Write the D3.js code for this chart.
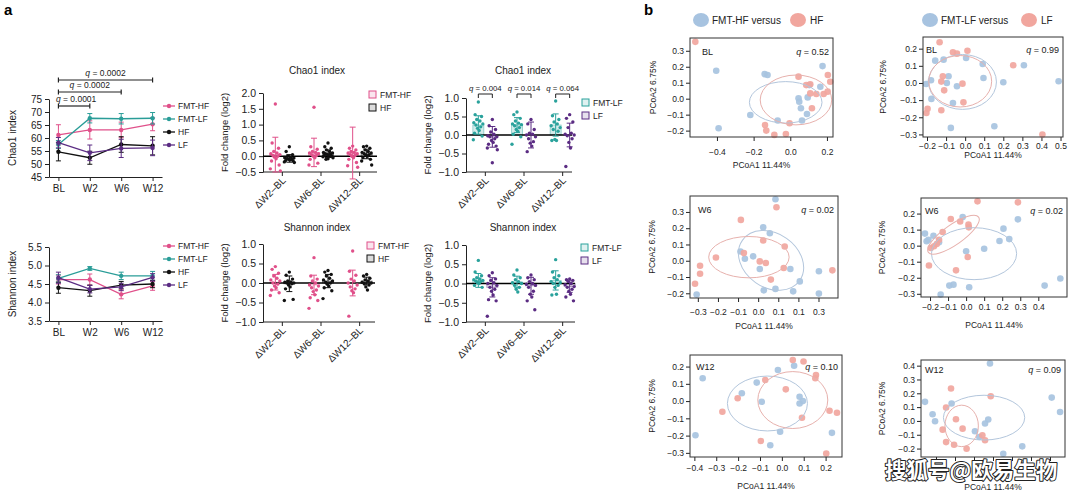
<!DOCTYPE html>
<html><head><meta charset="utf-8">
<script src="https://cdn.jsdelivr.net/npm/d3@7"></script>
<style>
body{margin:0;background:#fff;}
svg{font-family:"Liberation Sans", Arial, sans-serif;}
</style></head><body>
<svg id="c" width="1080" height="494"></svg>
<script>
// ================= DATA =================
const timepoints = ["BL","W2","W6","W12"];
const lineSeries = ["FMT-HF","FMT-LF","HF","LF"];
// Chao1 (mean, SEM)
const chao1_FMTHF = [61.2, 63.1, 63.1, 65.3];
const chao1_FMTHF_err = [3.9, 3.5, 3.0, 2.5];
const chao1_FMTLF = [57.5, 67.6, 67.4, 67.6];
const chao1_FMTLF_err = [1.5, 1.8, 2.0, 2.2];
const chao1_HF = [54.7, 52.4, 57.5, 57.0];
const chao1_HF_err = [3.5, 2.5, 3.0, 3.5];
const chao1_LF = [58.2, 54.3, 56.0, 56.2];
const chao1_LF_err = [2.0, 3.0, 3.5, 3.0];
const chao1Ticks = [45,50,55,60,65,70,75];
const chao1Q = ["0.0002","0.0002","0.0001"];
const chao1QTo = ["W12","W6","W2"];
// Shannon (mean, SEM)
const shan_FMTHF = [4.62, 4.62, 4.22, 4.45];
const shan_FMTHF_err = [0.12, 0.15, 0.12, 0.12];
const shan_FMTLF = [4.65, 4.92, 4.72, 4.72];
const shan_FMTLF_err = [0.1, 0.05, 0.1, 0.12];
const shan_HF = [4.4, 4.32, 4.47, 4.5];
const shan_HF_err = [0.15, 0.15, 0.1, 0.1];
const shan_LF = [4.67, 4.36, 4.42, 4.68];
const shan_LF_err = [0.15, 0.1, 0.1, 0.1];
const shanTicks = [3.5,4.0,4.5,5.0,5.5];

// Fold change dot plots
const dpGroups = ["\u0394W2\u2013BL","\u0394W6\u2013BL","\u0394W12\u2013BL"];
// Chao1: FMT-HF vs HF
const c1_FMTHF_pts = [
  [1.65,0.42,0.25,0.15,0.1,0.08,0.05,0.02,0.0,-0.03,-0.08,-0.15,-0.28,-0.4,-0.47],
  [1.55,0.3,0.22,0.15,0.12,0.1,0.08,0.05,0.02,0.0,-0.05,-0.1,-0.22,-0.28],
  [0.32,0.25,0.2,0.15,0.12,0.1,0.08,0.05,0.02,0.0,-0.05,-0.1,-0.2,-0.3,-0.35]];
const c1_FMTHF_mean = [0.05, 0.12, 0.1];
const c1_FMTHF_sd = [0.55, 0.45, 0.82];
const c1_HF_pts = [
  [0.3,0.15,0.05,0.0,-0.03,-0.05,-0.06,-0.08,-0.1,-0.1,-0.12,-0.14,-0.15,-0.18,-0.2],
  [0.42,0.3,0.25,0.2,0.15,0.12,0.1,0.08,0.06,0.05,0.04,0.02,0.0,-0.02,-0.05,-0.08,-0.1],
  [0.32,0.3,0.25,0.2,0.15,0.12,0.1,0.08,0.05,0.02,0.0,-0.05,-0.1,-0.15,-0.28]];
const c1_HF_mean = [-0.07, 0.08, 0.07];
const c1_HF_sd = [0.12, 0.12, 0.15];
// Chao1: FMT-LF vs LF
const c1_FMTLF_pts = [
  [0.89,0.55,0.5,0.42,0.38,0.33,0.3,0.27,0.22,0.18,0.12,0.05,-0.03,-0.13],
  [0.62,0.55,0.45,0.38,0.32,0.3,0.28,0.25,0.2,0.15,0.1,0.02,-0.05,-0.25],
  [0.92,0.52,0.42,0.35,0.3,0.25,0.2,0.15,0.1,-0.12,-0.15,-0.15]];
const c1_FMTLF_mean = [0.27, 0.27, 0.27];
const c1_FMTLF_sd = [0.25, 0.2, 0.3];
const c1_LF_pts = [
  [0.42,0.25,0.15,0.08,0.02,-0.02,-0.05,-0.05,-0.1,-0.15,-0.2,-0.25,-0.3,-0.35,-0.4,-0.75],
  [0.42,0.3,0.15,0.05,0.02,0.0,-0.05,-0.1,-0.18,-0.22,-0.3,-0.45],
  [0.55,0.45,0.35,0.2,0.05,0.02,0.0,-0.02,-0.1,-0.2,-0.35,-0.85]];
const c1_LF_mean = [-0.05, 0.0, 0.0];
const c1_LF_sd = [0.28, 0.35, 0.32];
const c1_LF_q = ["0.004","0.014","0.064"];
// Shannon: FMT-HF vs HF
const sh_FMTHF_pts = [
  [0.42,0.35,0.25,0.18,0.12,0.08,0.05,0.0,-0.03,-0.08,-0.12,-0.18,-0.25,-0.32],
  [0.65,0.18,0.1,0.05,0.0,-0.05,-0.08,-0.12,-0.18,-0.22,-0.3,-0.38,-0.45,-0.65],
  [0.82,0.3,0.2,0.1,0.05,0.0,-0.05,-0.1,-0.15,-0.2,-0.25,-0.85]];
const sh_FMTHF_mean = [0.02, -0.05, 0.0];
const sh_FMTHF_sd = [0.2, 0.25, 0.33];
const sh_HF_pts = [
  [0.28,0.2,0.1,0.05,0.03,0.02,0.0,0.0,-0.02,-0.05,-0.1,-0.15,-0.42,-0.45],
  [0.32,0.28,0.22,0.18,0.12,0.08,0.05,0.02,0.0,-0.03,-0.08,-0.12,-0.2,-0.4],
  [0.22,0.18,0.12,0.08,0.05,0.02,0.0,-0.02,-0.05,-0.1,-0.18]];
const sh_HF_mean = [-0.02, 0.05, 0.05];
const sh_HF_sd = [0.2, 0.17, 0.1];
// Shannon: FMT-LF vs LF
const sh_FMTLF_pts = [
  [0.6,0.3,0.2,0.15,0.12,0.1,0.08,0.06,0.05,0.02,0.0,-0.05,-0.1],
  [0.35,0.22,0.15,0.1,0.05,0.02,0.0,-0.05,-0.1,-0.15,-0.22],
  [0.62,0.3,0.2,0.15,0.1,0.05,0.02,0.0,-0.05,-0.1,-0.28,-0.3]];
const sh_FMTLF_mean = [0.08, 0.04, 0.08];
const sh_FMTLF_sd = [0.18, 0.15, 0.25];
const sh_LF_pts = [
  [0.28,0.2,0.12,0.08,0.02,0.0,-0.05,-0.1,-0.15,-0.2,-0.3,-0.42,-0.45,-0.85],
  [0.22,0.15,0.1,0.05,0.0,-0.02,-0.05,-0.1,-0.2,-0.28,-0.35,-0.45,-0.68],
  [0.12,0.1,0.08,0.05,0.0,-0.03,-0.08,-0.1,-0.15,-0.2,-0.28,-0.35,-0.45]];
const sh_LF_mean = [-0.1, -0.06, -0.08];
const sh_LF_sd = [0.25, 0.22, 0.15];
const fcTicksChao = [-0.5,0,0.5,1.0,1.5,2.0];
const fcTicks = [-1.0,-0.5,0,0.5,1.0];

// PCoA points [PCoA1, PCoA2]
const blHF_fmt = [[-0.404,0.175],[-0.391,-0.185],[-0.218,-0.102],[-0.14,0.154],[-0.124,0.148],[-0.069,-0.137],[0.045,0.002],[0.049,-0.019],[0.058,-0.06],[0.064,-0.137],[0.091,-0.096],[0.104,0.085],[0.095,0.008],[0.164,0.075],[0.176,0.204]];
const blHF_hf = [[-0.518,0.356],[-0.138,-0.165],[-0.131,-0.2],[-0.087,-0.227],[-0.024,-0.221],[-0.004,-0.154],[0.045,0.138],[0.087,0.085],[0.109,0.09],[0.109,0.033],[0.118,-0.06],[0.142,0.029],[0.182,0.029],[0.204,0.044],[0.205,0.148],[0.218,0.106]];
const blLF_fmt = [[-0.205,-0.006],[-0.179,0.016],[-0.177,-0.093],[-0.157,0.13],[-0.113,0.136],[-0.087,0.039],[-0.096,0.0],[-0.043,-0.019],[-0.064,-0.117],[0.005,0.146],[0.092,0.111],[0.096,0.029],[0.2,0.004],[-0.075,-0.262],[0.153,-0.252],[0.308,0.103],[0.49,0.01]];
const blLF_lf = [[-0.134,0.237],[-0.203,-0.175],[-0.197,-0.151],[-0.125,-0.159],[-0.117,0.039],[-0.125,0.008],[-0.11,-0.043],[-0.064,0.179],[-0.043,0.171],[0.012,0.188],[-0.014,-0.004],[-0.009,-0.113],[0.252,0.103],[0.405,-0.301]];
const w6HF_fmt = [[-0.306,-0.208],[-0.088,0.057],[-0.066,0.012],[-0.025,0.027],[0.008,-0.051],[0.025,0.206],[0.058,0.169],[0.086,0.378],[0.028,-0.182],[0.086,-0.173],[0.16,-0.051],[0.174,-0.188],[0.207,-0.127],[0.302,-0.202],[0.302,-0.065]];
const w6HF_hf = [[-0.314,-0.141],[-0.289,-0.08],[-0.289,-0.031],[-0.21,0.02],[-0.086,0.251],[-0.071,0.047],[0.008,-0.004],[0.025,0.124],[0.038,-0.014],[0.063,-0.116],[0.091,0.329],[0.127,-0.045],[0.132,0.088],[0.369,-0.059]];
const w6LF_fmt = [[-0.228,0.075],[-0.219,0.027],[-0.209,0.037],[-0.181,0.062],[-0.15,0.021],[-0.019,0.178],[0.0,-0.035],[0.1,-0.019],[0.207,0.106],[0.185,0.029],[0.239,0.041],[0.287,0.164],[-0.093,-0.249],[-0.07,-0.243],[-0.141,-0.305],[0.017,-0.259],[0.435,-0.249],[0.522,-0.205]];
const w6LF_lf = [[-0.206,-0.124],[-0.196,-0.015],[-0.178,-0.004],[-0.163,0.01],[-0.15,0.037],[-0.13,0.085],[-0.085,0.166],[-0.033,0.151],[0.013,0.131],[0.015,0.114],[0.009,-0.071],[-0.056,-0.154],[0.063,0.276],[0.287,0.27]];
const w12HF_fmt = [[-0.395,-0.198],[-0.362,0.132],[-0.183,0.045],[-0.115,0.107],[-0.092,-0.004],[-0.018,0.18],[-0.008,-0.178],[-0.053,-0.256],[0.056,0.205],[0.081,0.025],[0.081,-0.014],[0.096,0.0],[0.229,-0.184]];
const w12HF_hf = [[-0.272,-0.062],[-0.202,0.016],[-0.076,0.122],[-0.096,-0.231],[0.018,0.068],[0.05,0.238],[0.099,0.229],[0.092,-0.097],[0.153,0.132],[0.156,0.151],[0.218,-0.056],[0.252,-0.068],[0.203,-0.304]];
const w12LF_fmt = [[-0.258,0.138],[-0.218,0.048],[-0.205,-0.002],[-0.118,0.126],[0.075,0.01],[0.058,-0.019],[0.005,-0.075],[0.028,-0.116],[0.084,0.416],[0.254,-0.184],[0.409,0.169],[0.453,0.065],[0.154,-0.237]];
const w12LF_lf = [[-0.121,0.235],[-0.147,0.097],[-0.095,0.012],[-0.165,-0.063],[-0.147,-0.153],[-0.105,-0.172],[-0.06,-0.056],[-0.039,-0.201],[0.044,-0.104],[0.058,-0.14],[0.088,0.179]];
// ellipses [cx, cy, rx, ry, rotation]
const blHF_ell = [[-0.025,-0.023,0.198,0.13,0],[0.031,-0.008,0.195,0.156,0]];
const blLF_ell = [[-0.014,0.006,0.178,0.16,0],[-0.026,0.01,0.165,0.15,0]];
const w6HF_ell = [[0.064,0.002,0.174,0.166,35],[-0.046,0.022,0.2,0.127,0]];
const w6LF_ell = [[0.044,-0.05,0.236,0.162,0],[-0.07,0.068,0.17,0.062,-35]];
const w12HF_ell = [[-0.066,-0.014,0.183,0.159,0],[0.05,0.006,0.16,0.165,0]];
const w12LF_ell = [[0.053,0.024,0.214,0.162,0],[-0.065,-0.036,0.088,0.15,0]];
const pcoaQ = ["0.52","0.99","0.02","0.02","0.10","0.09"];
const pcoaTime = ["BL","BL","W6","W6","W12","W12"];
const w6TickLabels = ["\u22120.3","\u22120.2","\u22120.1","0.0","0.1","0.1","0.3"];

// ================= DRAW =================
const svg = d3.select("#c");
const lineColors = ["#e0508a","#2a9d98","#111111","#5b2c83"];
const BLUE = "#a7c3e0", PINK = "#f1a69e";

function styleAxis(sel, fs){
  sel.attr("font-family", null).attr("font-size", null);
  sel.selectAll("text").attr("font-size", fs).attr("fill","#222");
  sel.selectAll("line,path").attr("stroke","#222");
}
function qText(t, prefix, val){
  t.append("tspan").attr("font-style","italic").text("q");
  t.append("tspan").text(" = " + val);
}

svg.append("text").attr("x",4).attr("y",15).attr("font-size",15).attr("font-weight","bold").text("a");
svg.append("text").attr("x",644).attr("y",15).attr("font-size",15).attr("font-weight","bold").text("b");

function lineChart(cfg){
  const g = svg.append("g");
  const x = d3.scalePoint().domain(timepoints).range([49,162]).padding(0.3);
  const y = d3.scaleLinear().domain(cfg.yDomain).range(cfg.yRange);
  g.append("g").attr("transform","translate(49,0)")
   .call(d3.axisLeft(y).tickValues(cfg.yTicks).tickFormat(d3.format(cfg.fmt)).tickSize(4).tickPadding(3).tickSizeOuter(0))
   .call(s=>styleAxis(s,10));
  g.append("g").attr("transform",`translate(0,${cfg.yRange[0]})`)
   .call(d3.axisBottom(x).tickSize(4).tickPadding(4).tickSizeOuter(0))
   .call(s=>styleAxis(s,10));
  g.append("text").attr("transform",`translate(16,${(cfg.yRange[0]+cfg.yRange[1])/2}) rotate(-90)`)
   .attr("text-anchor","middle").attr("font-size",10).attr("fill","#222").text(cfg.label);
  cfg.series.forEach((s,k)=>{
    const c = lineColors[k];
    g.append("path").datum(s.mean)
      .attr("d", d3.line().x((d,i)=>x(timepoints[i])).y(d=>y(d)))
      .attr("fill","none").attr("stroke",c).attr("stroke-width",1.3);
    s.mean.forEach((m,i)=>{
      const cx = x(timepoints[i]);
      g.append("line").attr("x1",cx).attr("x2",cx).attr("y1",y(m-s.err[i])).attr("y2",y(m+s.err[i])).attr("stroke",c).attr("stroke-width",1);
      [m-s.err[i], m+s.err[i]].forEach(v=> g.append("line").attr("x1",cx-2.5).attr("x2",cx+2.5).attr("y1",y(v)).attr("y2",y(v)).attr("stroke",c));
      g.append("circle").attr("cx",cx).attr("cy",y(m)).attr("r",2.2).attr("fill",c);
    });
    const ly = cfg.legendY + k*13;
    g.append("line").attr("x1",163).attr("x2",175).attr("y1",ly).attr("y2",ly).attr("stroke",c).attr("stroke-width",1.3);
    g.append("circle").attr("cx",169).attr("cy",ly).attr("r",2.2).attr("fill",c);
    g.append("text").attr("x",178).attr("y",ly+3).attr("font-size",8.5).attr("fill","#222").text(lineSeries[k]);
  });
  return {x,y,g};
}

const lc1 = lineChart({yDomain:[45,75], yRange:[177,99], yTicks:chao1Ticks, fmt:"d", label:"Chao1 index", legendY:106,
  series:[{mean:chao1_FMTHF,err:chao1_FMTHF_err},{mean:chao1_FMTLF,err:chao1_FMTLF_err},{mean:chao1_HF,err:chao1_HF_err},{mean:chao1_LF,err:chao1_LF_err}]});
lineChart({yDomain:[3.5,5.5], yRange:[321,247], yTicks:shanTicks, fmt:".1f", label:"Shannon index", legendY:246,
  series:[{mean:shan_FMTHF,err:shan_FMTHF_err},{mean:shan_FMTLF,err:shan_FMTLF_err},{mean:shan_HF,err:shan_HF_err},{mean:shan_LF,err:shan_LF_err}]});
// brackets on Chao1
[80,92,106].forEach((by,i)=>{
  const x0 = lc1.x("BL"), x1 = lc1.x(chao1QTo[i]);
  const g = lc1.g;
  g.append("line").attr("x1",x0).attr("x2",x1).attr("y1",by).attr("y2",by).attr("stroke","#222").attr("stroke-width",1.2);
  [x0,x1].forEach(xx=>g.append("line").attr("x1",xx).attr("x2",xx).attr("y1",by-2.5).attr("y2",by+2.5).attr("stroke","#222").attr("stroke-width",1.2));
  const t = g.append("text").attr("x",(x0+x1)/2 + (i==2?2:0)).attr("y",by-4).attr("text-anchor","middle").attr("font-size",8.5).attr("fill","#222");
  qText(t,"",chao1Q[i]);
});

const jit = [0,-3.2,3.2,-1.6,1.6,-4.5,4.5,-2.4,2.4,-0.8,0.8,-3.8,3.8,-5,5,0,-2,2];
function dotPlot(cfg){
  const g = svg.append("g");
  const x = d3.scaleBand().domain(dpGroups).range([cfg.ax, cfg.ax+116]);
  const y = d3.scaleLinear().domain(cfg.yDomain).range(cfg.yRange);
  const off = [-7, 7];
  const yb = cfg.yRange[0];
  g.append("text").attr("x",cfg.titleX).attr("y",cfg.titleY).attr("text-anchor","middle").attr("font-size",10).attr("fill","#222").text(cfg.title);
  g.append("g").attr("transform",`translate(${cfg.ax},0)`)
    .call(d3.axisLeft(y).tickValues(cfg.yTicks).tickFormat(d3.format(".1f")).tickSize(4).tickPadding(3).tickSizeOuter(0))
    .call(s=>styleAxis(s,10.5));
  g.append("line").attr("x1",cfg.ax).attr("x2",cfg.xEnd).attr("y1",yb).attr("y2",yb).attr("stroke","#222");
  dpGroups.forEach(gr=>{
    const cx = x(gr)+x.bandwidth()/2;
    g.append("line").attr("x1",cx).attr("x2",cx).attr("y1",yb).attr("y2",yb+4).attr("stroke","#222");
    g.append("text").attr("transform",`translate(${cx+4},${yb+9}) rotate(-45)`).attr("text-anchor","end")
      .attr("font-size",10).attr("fill","#222").text(gr);
  });
  cfg.series.forEach((s,k)=>{
    dpGroups.forEach((gr,i)=>{
      const cx = x(gr)+x.bandwidth()/2 + off[k];
      const y0 = y(0), ym = y(s.mean[i]);
      g.append("rect").attr("x",cx-5.5).attr("width",11).attr("y",Math.min(y0,ym)).attr("height",Math.abs(y0-ym))
        .attr("fill",s.color).attr("fill-opacity",0.2).attr("stroke",s.color).attr("stroke-opacity",0.5).attr("stroke-width",0.8);
    });
  });
  g.append("line").attr("x1",cfg.ax).attr("x2",cfg.xEnd).attr("y1",y(0)).attr("y2",y(0)).attr("stroke","#000").attr("stroke-width",1.6);
  cfg.series.forEach((s,k)=>{
    dpGroups.forEach((gr,i)=>{
      const cx = x(gr)+x.bandwidth()/2 + off[k];
      s.pts[i].forEach((v,j)=>{
        g.append("circle").attr("cx",cx+jit[j%jit.length]).attr("cy",y(v)).attr("r",1.7).attr("fill",s.color);
      });
      const m = s.mean[i], sd = s.sd[i];
      g.append("line").attr("x1",cx).attr("x2",cx).attr("y1",y(m-sd)).attr("y2",y(m+sd)).attr("stroke",s.color).attr("stroke-width",1);
      [m-sd,m+sd].forEach(v=>g.append("line").attr("x1",cx-3).attr("x2",cx+3).attr("y1",y(v)).attr("y2",y(v)).attr("stroke",s.color).attr("stroke-width",1));
    });
    const ly = cfg.legendY + k*13;
    g.append("rect").attr("x",cfg.legendX).attr("y",ly).attr("width",7).attr("height",7)
      .attr("fill",s.color).attr("fill-opacity",0.15).attr("stroke",s.color).attr("stroke-width",1);
    g.append("text").attr("x",cfg.legendX+11).attr("y",ly+7).attr("font-size",8.5).attr("fill","#222").text(s.name);
  });
  const ymid = (cfg.yRange[0]+cfg.yRange[1])/2;
  g.append("text").attr("transform",`translate(${cfg.ylabelX},${ymid}) rotate(-90)`).attr("text-anchor","middle")
    .attr("font-size",9.5).attr("fill","#222").text("Fold change (log2)");
  if (cfg.q){
    dpGroups.forEach((gr,i)=>{
      const cx = x(gr)+x.bandwidth()/2;
      const by = cfg.qY;
      g.append("path").attr("d",`M${cx-7},${by+4}V${by}H${cx+7}V${by+4}`).attr("fill","none").attr("stroke","#222").attr("stroke-width",1);
      const t = g.append("text").attr("x",cx).attr("y",by-3).attr("text-anchor","middle").attr("font-size",7.8).attr("fill","#222");
      qText(t,"",cfg.q[i]);
    });
  }
}
const PK = "#e0508a", BK = "#111111", TL = "#2aa29c", PU = "#5b2c83";
dotPlot({ax:263, xEnd:377, yDomain:[-0.5,2.0], yRange:[172,93], yTicks:fcTicksChao, title:"Chao1 index", titleX:317, titleY:74,
  legendX:369, legendY:91, ylabelX:228,
  series:[{name:"FMT-HF",color:PK,pts:c1_FMTHF_pts,mean:c1_FMTHF_mean,sd:c1_FMTHF_sd},{name:"HF",color:BK,pts:c1_HF_pts,mean:c1_HF_mean,sd:c1_HF_sd}]});
dotPlot({ax:466, xEnd:572, yDomain:[-1,1], yRange:[172,98], yTicks:fcTicks, title:"Chao1 index", titleX:523, titleY:74,
  legendX:582, legendY:99, ylabelX:431, q:c1_LF_q, qY:94,
  series:[{name:"FMT-LF",color:TL,pts:c1_FMTLF_pts,mean:c1_FMTLF_mean,sd:c1_FMTLF_sd},{name:"LF",color:PU,pts:c1_LF_pts,mean:c1_LF_mean,sd:c1_LF_sd}]});
dotPlot({ax:263, xEnd:375, yDomain:[-1,1], yRange:[322,244], yTicks:fcTicks, title:"Shannon index", titleX:317, titleY:231,
  legendX:367, legendY:242, ylabelX:228,
  series:[{name:"FMT-HF",color:PK,pts:sh_FMTHF_pts,mean:sh_FMTHF_mean,sd:sh_FMTHF_sd},{name:"HF",color:BK,pts:sh_HF_pts,mean:sh_HF_mean,sd:sh_HF_sd}]});
dotPlot({ax:466, xEnd:575, yDomain:[-1,1], yRange:[322,245], yTicks:fcTicks, title:"Shannon index", titleX:523, titleY:231,
  legendX:581, legendY:244, ylabelX:431,
  series:[{name:"FMT-LF",color:TL,pts:sh_FMTLF_pts,mean:sh_FMTLF_mean,sd:sh_FMTLF_sd},{name:"LF",color:PU,pts:sh_LF_pts,mean:sh_LF_mean,sd:sh_LF_sd}]});

// PCoA legends
function topLegend(cx1, t1, cx2, t2){
  svg.append("ellipse").attr("cx",cx1).attr("cy",20).attr("rx",8).attr("ry",7).attr("fill",BLUE);
  svg.append("text").attr("x",cx1+11).attr("y",24).attr("font-size",10).attr("fill","#222").text(t1);
  svg.append("ellipse").attr("cx",cx2).attr("cy",20).attr("rx",8).attr("ry",7).attr("fill",PINK);
  svg.append("text").attr("x",cx2+12).attr("y",24).attr("font-size",10).attr("fill","#222").text(t2);
}
topLegend(701,"FMT-HF versus",798,"HF");
topLegend(930,"FMT-LF versus",1029,"LF");

function pcoa(cfg){
  const g = svg.append("g");
  const [bx0,bx1,by0,by1] = cfg.box;
  const x = d3.scaleLinear().domain(cfg.xd).range([bx0,bx1]);
  const y = d3.scaleLinear().domain(cfg.yd).range([by1,by0]);
  const ax = d3.axisBottom(x).tickValues(cfg.xt).tickSize(4).tickPadding(cfg.xpad).tickSizeOuter(0);
  if (cfg.hideX) ax.tickFormat(()=>"");
  else if (cfg.xl) ax.tickFormat((d,i)=>cfg.xl[i]); else ax.tickFormat(d3.format(".1f"));
  g.append("g").attr("transform",`translate(0,${by1})`).call(ax).call(s=>{styleAxis(s,8.5); s.select(".domain").remove();});
  g.append("g").attr("transform",`translate(${bx0},0)`)
    .call(d3.axisLeft(y).tickValues(cfg.yt).tickFormat(d3.format(".1f")).tickSize(4).tickPadding(2).tickSizeOuter(0))
    .call(s=>{styleAxis(s,8.5); s.select(".domain").remove();});
  const kx = x(1)-x(0), ky = y(0)-y(1);
  cfg.fmt.forEach(p=>g.append("circle").attr("cx",x(p[0])).attr("cy",y(p[1])).attr("r",3.3).attr("fill",BLUE).attr("fill-opacity",0.92));
  cfg.ctl.forEach(p=>g.append("circle").attr("cx",x(p[0])).attr("cy",y(p[1])).attr("r",3.3).attr("fill",PINK).attr("fill-opacity",0.92));
  const ellCol = ["#b3c6dc","#e7b1ad"];
  cfg.ell.forEach((e,i)=>{
    const cx = x(e[0]), cy = y(e[1]);
    g.append("ellipse").attr("cx",cx).attr("cy",cy).attr("rx",e[2]*kx).attr("ry",e[3]*ky)
      .attr("transform",`rotate(${e[4]},${cx},${cy})`).attr("fill","none").attr("stroke",ellCol[i]).attr("stroke-width",1);
  });
  g.append("rect").attr("x",bx0).attr("y",by0).attr("width",bx1-bx0).attr("height",by1-by0).attr("fill","none").attr("stroke","#333").attr("stroke-width",1);
  g.append("text").attr("x",bx0+cfg.lx).attr("y",by0+cfg.ly).attr("font-size",9).attr("fill","#222").text(cfg.name);
  const t = g.append("text").attr("x",bx1-4).attr("y",by0+cfg.ly).attr("text-anchor","end").attr("font-size",9).attr("fill","#222");
  qText(t,"",cfg.q);
  g.append("text").attr("x",(bx0+bx1)/2).attr("y",cfg.titleY).attr("text-anchor","middle").attr("font-size",8.5).attr("fill","#222").text("PCoA1 11.44%");
  g.append("text").attr("transform",`translate(${cfg.yTitleX},${(by0+by1)/2}) rotate(-90)`).attr("text-anchor","middle").attr("font-size",8.5).attr("fill","#222").text("PCoA2 6.75%");
}
const t1 = [-0.4,-0.2,0,0.2];
const tA = [-0.2,-0.1,0,0.1,0.2,0.3,0.4,0.5];
const tB = [-0.3,-0.2,-0.1,0,0.1,0.2,0.3];
const tC = [-0.2,-0.1,0,0.1,0.2,0.3,0.4];
const tD = [-0.4,-0.3,-0.2,-0.1,0,0.1,0.2];
const tY1 = [-0.2,-0.1,0,0.1,0.2,0.3];
const tY2 = [-0.3,-0.2,-0.1,0,0.1,0.2];
const tY3 = [-0.2,-0.1,0,0.1,0.2,0.3,0.4];
pcoa({box:[690,833,38,137], xd:[-0.547,0.233], yd:[-0.24,0.38], xt:t1, yt:tY1, xpad:8, titleY:168, yTitleX:656,
  fmt:blHF_fmt, ctl:blHF_hf, ell:blHF_ell, name:pcoaTime[0], q:pcoaQ[0], lx:12, ly:17});
pcoa({box:[923,1063,37,137], xd:[-0.221,0.513], yd:[-0.315,0.268], xt:tA, yt:tY2, xpad:2, titleY:158, yTitleX:886,
  fmt:blLF_fmt, ctl:blLF_lf, ell:blLF_ell, name:pcoaTime[1], q:pcoaQ[1], lx:3, ly:16});
pcoa({box:[690,838,196,298], xd:[-0.339,0.397], yd:[-0.229,0.398], xt:tB, xl:w6TickLabels, yt:tY1, xpad:7, titleY:329, yTitleX:655,
  fmt:w6HF_fmt, ctl:w6HF_hf, ell:w6HF_ell, name:pcoaTime[2], q:pcoaQ[2], lx:8, ly:17});
pcoa({box:[921,1067,198,297], xd:[-0.25,0.559], yd:[-0.32,0.297], xt:tC, yt:tY2, xpad:3, titleY:328, yTitleX:885,
  fmt:w6LF_fmt, ctl:w6LF_lf, ell:w6LF_ell, name:pcoaTime[3], q:pcoaQ[3], lx:4, ly:16});
pcoa({box:[690,842,355,457], xd:[-0.42,0.275], yd:[-0.324,0.267], xt:tD, yt:tY2, xpad:4, titleY:489, yTitleX:655,
  fmt:w12HF_fmt, ctl:w12HF_hf, ell:w12HF_ell, name:pcoaTime[4], q:pcoaQ[4], lx:6, ly:15});
pcoa({box:[921,1065,360,457], xd:[-0.279,0.479], yd:[-0.261,0.441], xt:tC, yt:tY3, xpad:4, titleY:490, yTitleX:885, hideX:true,
  fmt:w12LF_fmt, ctl:w12LF_lf, ell:w12LF_ell, name:pcoaTime[5], q:pcoaQ[5], lx:4, ly:13});

// watermark
svg.append("text").attr("x",885).attr("y",478).attr("font-family","'Noto Sans CJK SC'").attr("font-weight","bold")
  .attr("font-size",21.5).attr("fill","#fff").attr("stroke","#222").attr("stroke-width",2).attr("paint-order","stroke")
  .attr("stroke-linejoin","round").text("搜狐号@欧易生物");
</script></body></html>
